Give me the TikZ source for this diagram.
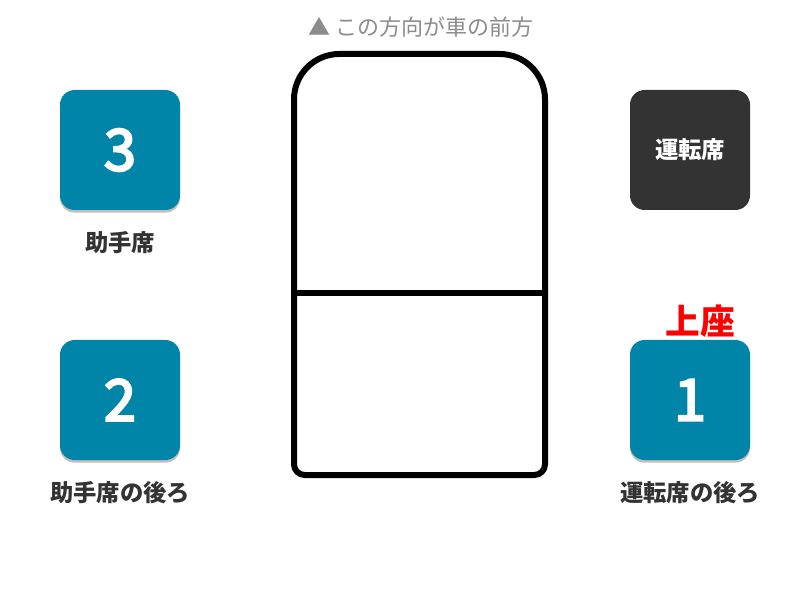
\documentclass[tikz,border=0pt]{standalone}
\usepackage{fontspec}
\setmainfont{Noto Sans CJK JP}
\newfontfamily\seatdigits[FakeBold=4]{Noto Sans CJK JP}
\usetikzlibrary{shadows}
\definecolor{seatblue}{HTML}{0084A8}
\definecolor{driverdark}{HTML}{333333}
\definecolor{labelgray}{HTML}{333333}
\definecolor{notegray}{HTML}{8C8C8C}
\definecolor{topred}{HTML}{FF0000}

\begin{document}
\begin{tikzpicture}[x=0.75pt,y=-0.75pt,
  every seat/.style={minimum width=90pt,minimum height=90pt,inner sep=0pt,
    rounded corners=11pt,text=white},
  seat number/.style={every seat,fill=seatblue,font=\seatdigits\fontsize{43}{43}\selectfont,
    drop shadow={shadow xshift=0pt,shadow yshift=-2pt,fill=black!25,opacity=1}},
  seat label/.style={text=labelgray,font=\fontsize{17.5}{17.5}\selectfont\bfseries},
  car line/.style={line width=4.5pt,draw=black},
]
\useasboundingbox (0,0) rectangle (806,591);
\node[text=notegray,font=\fontsize{16.5}{16.5}\selectfont] (front) at (421,27) {▲ この方向が車の前方};
\draw[car line,rounded corners=34pt] (294,293) -- (294,54) -- (545,54) -- (545,293);
\draw[car line,rounded corners=8pt] (294,293) -- (294,475) -- (545,475) -- (545,293);
\draw[car line] (294,293) -- (545,293);
\foreach \nm/\x/\y/\num/\lab in {three/120/150/3/助手席,two/120/400/2/助手席の後ろ,one/690/400/1/運転席の後ろ}
{
  \node[seat number] (\nm) at (\x,\y) {\num};
  \node[seat label] (\nm label) at (\x,\y+93) {\lab};
}
\node[every seat,fill=driverdark,font=\fontsize{17.5}{17.5}\selectfont\bfseries] (driver) at (690,150) {運転席};
\node[text=topred,font=\fontsize{26}{26}\selectfont\bfseries] (kamiza) at (700,321) {上座};
\end{tikzpicture}
\end{document}
